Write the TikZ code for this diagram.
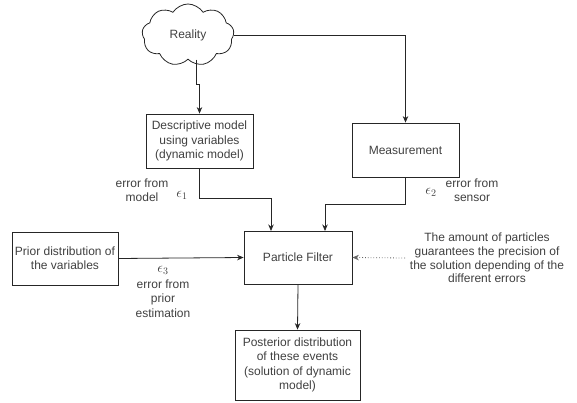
\documentclass[tikz,border=0pt]{standalone}
\usepackage{fontspec}
\setmainfont{Liberation Sans}
\usetikzlibrary{shapes.symbols,arrows.meta,calc}
\begin{document}
\begin{tikzpicture}[x=1pt,y=-1pt,
  font=\fontsize{12}{14.4}\selectfont,
  txt/.style={text=black!75, align=center, inner sep=0pt},
  box/.style={draw=black!85, line width=0.8pt, align=center, text=black!75, inner sep=0pt},
  arr/.style={draw=black!85, line width=0.8pt, -{Stealth[length=6.5pt,width=5.5pt]}},
  eps/.style={text=black!75, inner sep=0pt, font=\fontsize{14}{14}\selectfont}]
\useasboundingbox (0,0) rectangle (577,403);

\node[cloud, cloud puffs=9, cloud puff arc=115, aspect=1.6, draw=black!85, line width=0.8pt,
      minimum width=92pt, minimum height=62pt, inner sep=0pt, text=black!75] (reality) at (188,35) {Reality};

\node[box, minimum width=107pt, minimum height=54pt] (desc) at (199.5,141) {Descriptive model\\using variables\\(dynamic model)};
\node[box, minimum width=107pt, minimum height=54pt] (meas) at (405.5,150) {Measurement};
\node[box, minimum width=108pt, minimum height=53pt] (pf) at (298,257.5) {Particle Filter};
\node[box, minimum width=106pt, minimum height=53pt] (prior) at (65,258.5) {Prior distribution of\\the variables};
\node[box, minimum width=125pt, minimum height=70pt] (post) at (297.5,365) {Posterior distribution\\of these events\\(solution of dynamic\\model)};

% connectors
\coordinate (rs) at ($(reality.south)+(8,0)$);
\draw[arr] (rs) -- ++(0,25) -| (desc.north);
\draw[arr] (reality.east) -| (meas.north);
\draw[arr] (desc.south) |- (271,198) -- (271,231);
\draw[arr] (meas.south) |- (325,204) -- (325,231);
\draw[arr] (prior.east) -- (pf.west);
\draw[arr] (pf.south) -- (post.north);
\coordinate (note) at (405,258);
\draw[arr, dotted, draw=black!60] (note) -- (pf.east);

% labels
\node[txt] (l1) at (142,190) {error from\\model};
\node[eps] (e1) at (182,195) {$\epsilon_1$};
\node[eps] (e2) at (431,192) {$\epsilon_2$};
\node[txt] (l2) at (472,190) {error from\\sensor};
\node[eps] (e3) at (163,270) {$\epsilon_3$};
\node[txt] (l3) at (163,298.5) {error from\\prior\\estimation};
\node[txt, font=\fontsize{12}{13.8}\selectfont] (l4) at (487,258) {The amount of particles\\guarantees the precision of\\the solution depending of the\\different errors};
\end{tikzpicture}
\end{document}
